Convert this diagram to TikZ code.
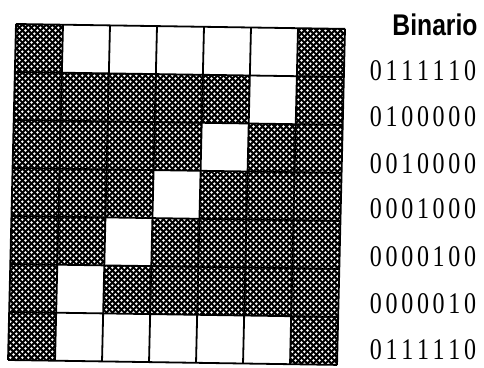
\documentclass[tikz,border=0pt]{standalone}
\usepackage{fontspec}
\usepackage{graphicx}
\setmainfont{Liberation Serif}
\newfontfamily\hsans{Liberation Sans}
\usetikzlibrary{patterns}
\pgfdeclarepatternformonly{bigdots}{\pgfqpoint{0pt}{0pt}}{\pgfqpoint{6.4pt}{6.4pt}}{\pgfqpoint{6.4pt}{6.4pt}}{%
  \pgfpathcircle{\pgfqpoint{1.6pt}{1.6pt}}{1.45pt}%
  \pgfpathcircle{\pgfqpoint{4.8pt}{4.8pt}}{1.45pt}%
  \pgfusepath{fill}}
\def\bitsrow#1{\bitsloop#1\relax}
\def\bitsloop#1{\ifx#1\relax\else\makebox[15.7pt]{\scalebox{0.8}[1]{#1}}\expandafter\bitsloop\fi}
\newcommand\bitsfont{\fontsize{30}{32}\selectfont}
\tikzset{
  darkcell/.style={fill=black},
  dotcell/.style={pattern=bigdots, pattern color=white},
  whitecell/.style={fill=white},
  gridline/.style={line width=1.8pt, black},
  bits/.style={inner sep=0pt},
  title/.style={font=\hsans\bfseries\fontsize{26}{28}\selectfont, inner sep=0pt}
}
\begin{document}
\begin{tikzpicture}[x=1pt,y=1pt]
\useasboundingbox (0,0) rectangle (484,367);
\fill[white] (0,0) rectangle (484,367);
\begin{scope}[shift={(16,343)}, x={(47pt,-0.7pt)}, y={(-1.14pt,-48pt)}]
  \fill[darkcell] (0,0) -- (7,0) -- (7,7) -- (0,7) -- cycle;
  \fill[dotcell] (0,0) -- (7,0) -- (7,7) -- (0,7) -- cycle;
  \foreach \i/\j in {1/0,2/0,3/0,4/0,5/0,5/1,4/2,3/3,2/4,1/5,1/6,2/6,3/6,4/6,5/6}
    \fill[whitecell] (\i,\j) -- (\i+1,\j) -- (\i+1,\j+1) -- (\i,\j+1) -- cycle;
  \foreach \k in {0,...,7} {
    \draw[gridline] (\k,0) -- (\k,7);
    \draw[gridline] (0,\k) -- (7,\k);
  }
\end{scope}
\node[title] (tit) at (435,342) {\scalebox{0.95}[1.15]{Binario}};
\node[bits] (b1) at (423,296) {\bitsfont\bitsrow{0111110}};
\node[bits] (b2) at (423,250) {\bitsfont\bitsrow{0100000}};
\node[bits] (b3) at (423,203) {\bitsfont\bitsrow{0010000}};
\node[bits] (b4) at (423,158) {\bitsfont\bitsrow{0001000}};
\node[bits] (b5) at (423,110) {\bitsfont\bitsrow{0000100}};
\node[bits] (b6) at (423,63) {\bitsfont\bitsrow{0000010}};
\node[bits] (b7) at (423,17) {\bitsfont\bitsrow{0111110}};
\end{tikzpicture}
\end{document}
